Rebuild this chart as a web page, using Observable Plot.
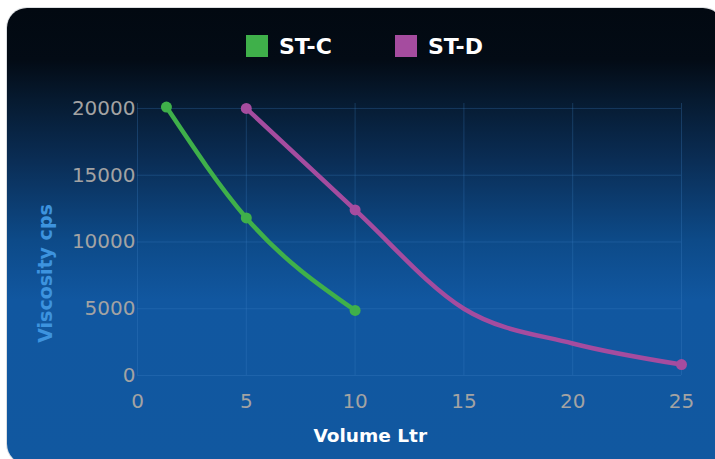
<!DOCTYPE html>
<html>
<head>
<meta charset="utf-8">
<script src="https://cdn.jsdelivr.net/npm/d3@7"></script>
<script src="https://cdn.jsdelivr.net/npm/@observablehq/plot@0.6"></script>
<style>
  html, body { margin: 0; padding: 0; background: #ffffff; }
  #wrap { position: relative; width: 715px; height: 459px; overflow: hidden; }
  #card {
    position: absolute; left: 7px; top: 8px; width: 716px; height: 456px;
    border-radius: 20px;
    box-shadow: 0 0 0 1px rgba(190,195,200,0.55);
    background: linear-gradient(to bottom, #020911 0px, #030b15 52px, #061a30 92px, #0a2d55 152px, #0d4a88 232px, #1157a0 292px, #1158a0 460px);
  }
  #legend { position: absolute; left: 0; top: 0; width: 715px; height: 80px;
    font-family: 'DejaVu Sans', sans-serif; font-weight: bold; font-size: 22px; color: #ffffff; }
  .sw { position: absolute; width: 22px; height: 22px; top: 35px; }
  .lab { position: absolute; top: 36px; line-height: 22px; white-space: nowrap; }
  #chart { position: absolute; left: 0; top: 0; }
</style>
</head>
<body>
<div id="wrap">
  <div id="card"></div>
  <div id="legend"></div>
  <div id="chart"></div>
</div>
<script>
const seriesNames = ["ST-C", "ST-D"];
const seriesColors = ["#3fb04a", "#a54c9f"];

const stcVolume = [1.33, 5, 10];
const stcViscosity = [20100, 11800, 4870];
const stcMarker = [true, true, true];

const stdVolume = [5, 10, 15, 20, 25];
const stdViscosity = [20000, 12400, 5000, 2400, 820];
const stdMarker = [true, true, false, false, true];

const xTicks = [0, 5, 10, 15, 20, 25];
const yTicks = [0, 5000, 10000, 15000, 20000];
const xLabel = "Volume Ltr";
const yLabel = "Viscosity cps";

const rows = [];
stcVolume.forEach((v, i) => rows.push({series: seriesNames[0], volume: v, viscosity: stcViscosity[i], marker: stcMarker[i]}));
stdVolume.forEach((v, i) => rows.push({series: seriesNames[1], volume: v, viscosity: stdViscosity[i], marker: stdMarker[i]}));

// legend
const legend = document.getElementById("legend");
const legendX = [246, 395];
seriesNames.forEach((name, i) => {
  const sw = document.createElement("div");
  sw.className = "sw";
  sw.style.left = legendX[i] + "px";
  sw.style.background = seriesColors[i];
  legend.appendChild(sw);
  const lab = document.createElement("div");
  lab.className = "lab";
  lab.style.left = (legendX[i] + 33) + "px";
  lab.textContent = name;
  legend.appendChild(lab);
});

const gridColor = "#3f86c8";
const tickFont = "'DejaVu Sans', sans-serif";

const chart = Plot.plot({
  width: 715,
  height: 459,
  marginLeft: 137,
  marginRight: 34,
  marginTop: 103,
  marginBottom: 84,
  style: {background: "transparent", overflow: "visible"},
  x: {domain: [0, 25]},
  y: {domain: [0, 20370]},
  color: {domain: seriesNames, range: seriesColors},
  marks: [
    Plot.gridX(xTicks, {stroke: gridColor, strokeOpacity: 0.28, strokeWidth: 1}),
    Plot.gridY(yTicks, {stroke: gridColor, strokeOpacity: 0.28, strokeWidth: 1}),
    Plot.axisX(xTicks, {tickSize: 0, tickPadding: 18, fontSize: 20, fill: "#a3a3a3", fontFamily: tickFont, label: null, tickFormat: d => String(d)}),
    Plot.axisY(yTicks, {tickSize: 0, tickPadding: 2, fontSize: 20, fill: "#a3a3a3", fontFamily: tickFont, label: null, tickFormat: d => String(d)}),
    Plot.line(rows, {x: "volume", y: "viscosity", z: "series", stroke: "series", strokeWidth: 4.5, curve: "monotone-x"}),
    Plot.dot(rows.filter(d => d.marker), {x: "volume", y: "viscosity", fill: "series", r: 5.5}),
    Plot.text([xLabel], {frameAnchor: "bottom-left", textAnchor: "start", dx: 176, dy: 66, text: d => d, fill: "#ffffff", fontSize: 18.5, fontWeight: "bold", fontFamily: tickFont}),
    Plot.text([yLabel], {frameAnchor: "left", textAnchor: "middle", dx: -92, dy: 34, rotate: -90, text: d => d, fill: "#3d93de", fontSize: 19, fontWeight: "bold", fontFamily: tickFont})
  ]
});
document.getElementById("chart").appendChild(chart);
</script>
</body>
</html>
